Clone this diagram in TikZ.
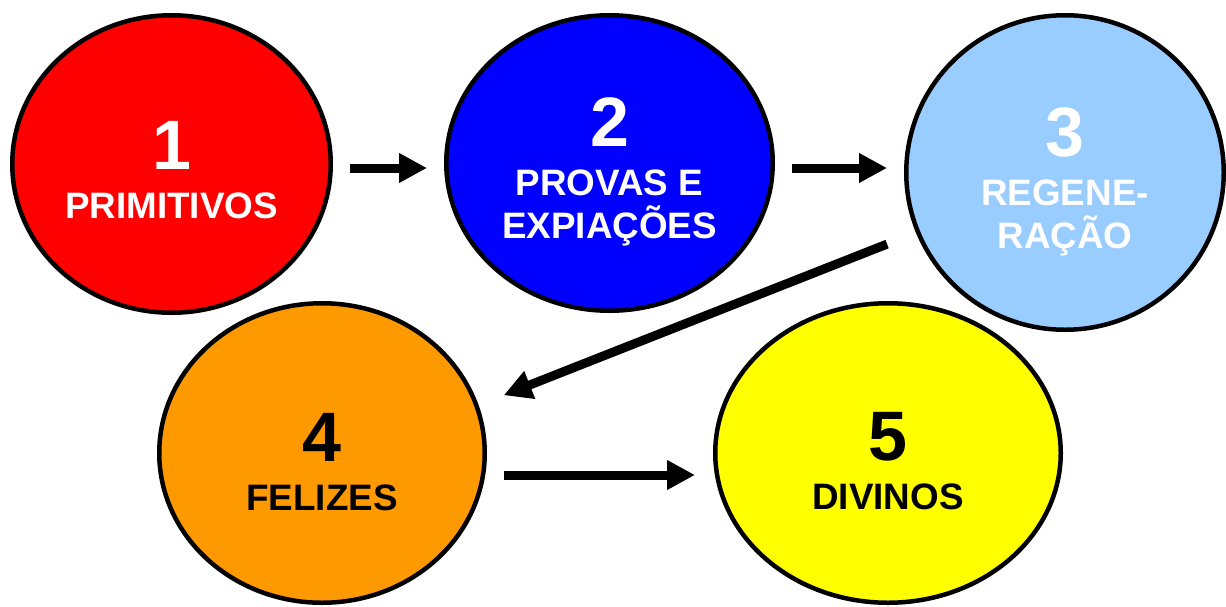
\documentclass[tikz,border=0pt]{standalone}
\usepackage{fontspec}
\setmainfont{Liberation Sans}
\usetikzlibrary{shapes.geometric}
\usetikzlibrary{arrows.meta}

\definecolor{primred}{HTML}{FF0000}
\definecolor{provblue}{HTML}{0000FF}
\definecolor{reglight}{HTML}{99CCFF}
\definecolor{felorange}{HTML}{FF9900}
\definecolor{divyellow}{HTML}{FFFF00}
\newcommand{\stagenum}{\fontsize{35}{35}\selectfont}

\begin{document}
\begin{tikzpicture}[x=0.5pt,y=-0.5pt,>={Triangle[length=14pt,width=14pt]},
  stage/.style={ellipse, draw, line width=2.25pt, inner sep=0pt, align=center,
    text depth=0pt, font=\fontsize{18.4}{21.5}\selectfont\bfseries},
  link/.style={->, line width=4.5pt, shorten <=8.5pt, shorten >=8.5pt}]

  \useasboundingbox (0,0) rectangle (1226,606);

  \node[stage, fill=primred, text=white, minimum width=159.25pt, minimum height=148.75pt,
    text height=54pt] (prim) at (171.5,164) {{\stagenum 1}\\[3pt]PRIMITIVOS};
  \node[stage, fill=provblue, text=white, minimum width=163.25pt, minimum height=147.75pt,
    text height=75pt] (prov) at (609.5,163) {{\stagenum 2}\\[3pt]PROVAS E\\EXPIAÇÕES};
  \node[stage, fill=reglight, text=white, minimum width=158.75pt, minimum height=157.25pt,
    text height=75.5pt] (reg) at (1065,172.5) {{\stagenum 3}\\[3pt]REGENE-\\RAÇÃO};
  \node[stage, fill=felorange, text=black, minimum width=162.75pt, minimum height=149.75pt,
    text height=57pt] (fel) at (322,453) {{\stagenum 4}\\[3pt]FELIZES};
  \node[stage, fill=divyellow, text=black, minimum width=172.75pt, minimum height=149.75pt,
    text height=56pt] (div) at (888,453) {{\stagenum 5}\\[3pt]DIVINOS};

  \path[link]
    ([yshift=-2pt]prim.east) edge ([yshift=-2.5pt]prov.west)
    ([yshift=-2.5pt]prov.east) edge ([yshift=2.25pt]reg.west)
    (reg.202) edge [shorten <=15.5pt, shorten >=13.5pt] (fel.17)
    ([yshift=-11pt]fel.east) edge [shorten >=9pt] ([yshift=-11pt]div.west);
\end{tikzpicture}
\end{document}
